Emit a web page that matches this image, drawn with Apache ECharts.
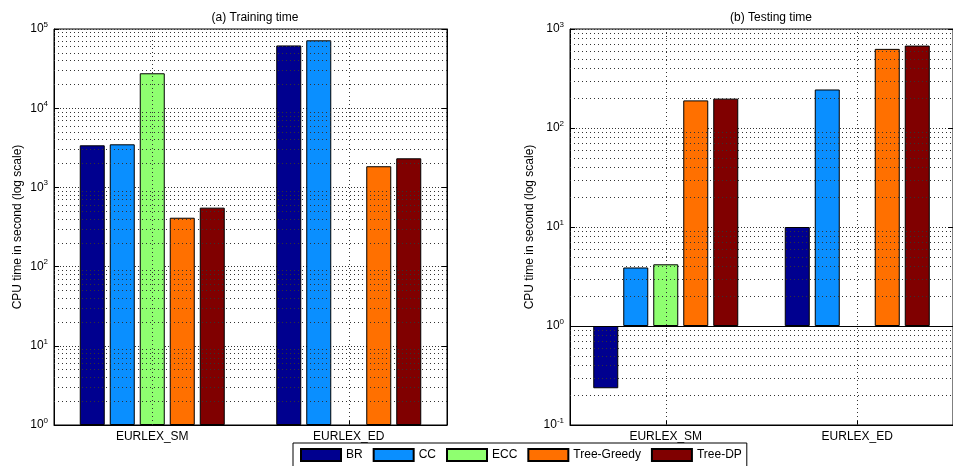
<!DOCTYPE html>
<html>
<head>
<meta charset="utf-8">
<script src="https://cdn.jsdelivr.net/npm/echarts@6/dist/echarts.min.js"></script>
<style>
  html, body { margin: 0; padding: 0; background: #fff; }
  #chart { width: 953px; height: 466px; }
</style>
</head>
<body>
<div id="chart"></div>
<script>
// data
const categories = ["EURLEX_SM", "EURLEX_ED"];
const methods = ["BR", "CC", "ECC", "Tree-Greedy", "Tree-DP"];
const colors = ["#00008F", "#0A8FFF", "#8FFF70", "#FF7000", "#800000"];

const trainBR = [3400, 62000];
const trainCC = [3500, 72000];
const trainECC = [27600, null];
const trainTreeGreedy = [414, 1850];
const trainTreeDP = [555, 2330];

const testBR = [0.235, 10];
const testCC = [3.9, 245];
const testECC = [4.2, null];
const testTreeGreedy = [190, 630];
const testTreeDP = [198, 680];

const trainTicks = [1, 10, 100, 1000, 10000, 100000];
const testTicks = [0.1, 1, 10, 100, 1000];

const trainData = [trainBR, trainCC, trainECC, trainTreeGreedy, trainTreeDP];
const testData = [testBR, testCC, testECC, testTreeGreedy, testTreeDP];

const font = "Liberation Sans, Arial, sans-serif";

// dotted minor grid values (2..9 x 10^k) between the major ticks
function minorValues(ticks) {
  const out = [];
  for (let i = 0; i < ticks.length - 1; i++) {
    for (let m = 2; m <= 9; m++) out.push(+(m * ticks[i]).toPrecision(6));
  }
  return out;
}

function powLabel(v) {
  const e = Math.round(Math.log10(v));
  return "10{s|" + e + "}";
}

function yAxes(gridIndex, ticks, nameGap) {
  const base = {
    type: "log",
    logBase: 10,
    gridIndex: gridIndex,
    min: ticks[0],
    max: ticks[ticks.length - 1],
    splitNumber: ticks.length - 1
  };
  return [
    Object.assign({}, base, {
      position: "left",
      name: "CPU time in second (log scale)",
      nameLocation: "middle",
      nameGap: nameGap,
      nameTextStyle: { color: "#000", fontSize: 12, fontFamily: font },
      axisLine: { show: true, lineStyle: { color: "#000", width: 1 } },
      axisTick: { show: true, inside: true, length: 5, lineStyle: { color: "#000" } },
      splitLine: { show: true, lineStyle: { color: "#333", width: 1, type: [1, 2] } },
      axisLabel: {
        color: "#000",
        fontSize: 12,
        fontFamily: font,
        margin: 6,
        formatter: powLabel,
        rich: { s: { fontSize: 8, verticalAlign: "top", padding: [0, 0, 9, 0], fontFamily: font, color: "#000" } }
      }
    }),
    Object.assign({}, base, {
      position: "right",
      axisLine: { show: true, lineStyle: { color: "#000", width: 1 } },
      axisTick: { show: true, inside: true, length: 5, lineStyle: { color: "#000" } },
      splitLine: { show: false },
      axisLabel: { show: false }
    })
  ];
}

function xAxis(gridIndex) {
  return {
    type: "category",
    gridIndex: gridIndex,
    data: categories,
    axisLine: { show: true, onZero: false, lineStyle: { color: "#000", width: 1 } },
    axisTick: { show: true, inside: true, alignWithLabel: true, length: 5, lineStyle: { color: "#000" } },
    splitLine: { show: false },
    axisLabel: { color: "#000", fontSize: 12, fontFamily: font, margin: 6 }
  };
}

// dummy series carrying the dotted minor grid and the vertical grid lines
function gridSeries(gridIndex, ticks, baseline) {
  const dotted = { color: "#333", width: 1, type: [1, 3] };
  const lines = minorValues(ticks).map(v => ({ yAxis: v, lineStyle: dotted }));
  categories.forEach(c => lines.push({ xAxis: c, lineStyle: dotted }));
  if (baseline) lines.push({ yAxis: 1, lineStyle: { color: "#000", width: 1, type: "solid" } });
  return {
    type: "line",
    name: "grid" + gridIndex,
    xAxisIndex: gridIndex,
    yAxisIndex: gridIndex * 2,
    data: [],
    z: 1,
    silent: true,
    markLine: {
      symbol: "none",
      silent: true,
      animation: false,
      label: { show: false },
      emphasis: { disabled: true },
      data: lines
    }
  };
}

let series = [gridSeries(0, trainTicks, false), gridSeries(1, testTicks, true)];
[trainData, testData].forEach((panel, g) => {
  panel.forEach((vals, i) => {
    series.push({
      type: "bar",
      name: methods[i],
      xAxisIndex: g,
      yAxisIndex: g * 2,
      data: vals,
      barWidth: 25,
      barGap: "20%",
      z: 3,
      itemStyle: { color: colors[i], borderColor: "#000", borderWidth: 1 }
    });
  });
});

let MyEcharts = echarts.init(document.getElementById("chart"));
let option = {
  animation: false,
  backgroundColor: "#fff",
  title: [
    { text: "(a) Training time", left: 250, top: 7, textAlign: "center",
      textStyle: { color: "#000", fontSize: 12, fontWeight: "normal", fontFamily: font } },
    { text: "(b) Testing time", left: 766, top: 7, textAlign: "center",
      textStyle: { color: "#000", fontSize: 12, fontWeight: "normal", fontFamily: font } }
  ],
  grid: [
    { left: 54, top: 29, width: 393, height: 396, show: true, borderColor: "#000", borderWidth: 1, backgroundColor: "transparent" },
    { left: 570, top: 29, width: 393, height: 396, show: true, borderColor: "#000", borderWidth: 1, backgroundColor: "transparent" }
  ],
  legend: {
    data: methods,
    left: 293,
    top: 443,
    orient: "horizontal",
    icon: "rect",
    itemWidth: 40,
    itemHeight: 12,
    itemGap: 10,
    padding: [5, 5, 5, 7],
    borderColor: "#000",
    borderWidth: 1,
    backgroundColor: "#fff",
    textStyle: { color: "#000", fontSize: 12, fontFamily: font }
  },
  xAxis: [xAxis(0), xAxis(1)],
  yAxis: yAxes(0, trainTicks, 30).concat(yAxes(1, testTicks, 34)),
  series: series
};
MyEcharts.setOption(option);
window.addEventListener("resize", () => {
  MyEcharts.resize();
});
</script>
</body>
</html>
